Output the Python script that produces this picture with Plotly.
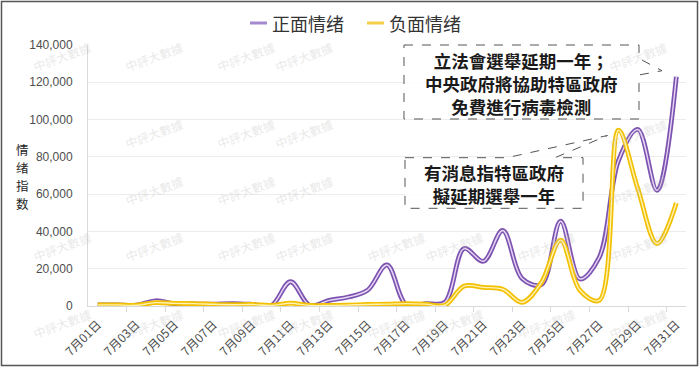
import plotly.graph_objects as go

dates = ["7月%02d日" % d for d in range(1, 32)]
positive = [600, 600, 400, 2800, 1200, 1100, 1000, 1300, 900, 200,
            13000, 300, 3000, 4800, 8500, 22000, 600, 1300, 2000, 30800,
            24000, 40500, 14800, 11500, 45500, 14500, 26000, 78000, 94700, 62000,
            123000]
negative = [600, 600, 400, 1800, 1400, 1300, 900, 700, 800, 300,
            1500, 300, 300, 500, 800, 1000, 1300, 1000, 400, 10700,
            10000, 9000, 2000, 12500, 35300, 8400, 3000, 94300, 63000, 33500,
            55300]
series_names = ["正面情绪", "负面情绪"]
y_title_chars = ["情", "绪", "指", "数"]
note1 = ["立法會選舉延期一年；", "中央政府將協助特區政府", "免費進行病毒檢測"]
note2 = ["有消息指特區政府", "擬延期選舉一年"]
watermark = "中評大數據"

W, H = 700, 371
L, R, T, B = 88, 686, 45, 306
PW, PH = R - L, B - T


def px(x):
    return (x - L) / PW


def py(y):
    return (B - y) / PH


xs = list(range(len(dates)))
FONT = "Noto Sans CJK SC, Noto Sans CJK TC, sans-serif"
TC = "Noto Sans CJK TC, sans-serif"

fig = go.Figure()
styles = [
    (positive, "#7d52b0", "#e4d8f4"),
    (negative, "#f2c000", "#fff2b5"),
]
for (vals, outer, inner), name in zip(styles, series_names):
    fig.add_trace(go.Scatter(x=xs, y=vals, mode="lines", name=name,
                             line=dict(color=outer, width=4.8, shape="spline", smoothing=1),
                             showlegend=False, hoverinfo="skip"))
    fig.add_trace(go.Scatter(x=xs, y=vals, mode="lines", name=name,
                             line=dict(color=inner, width=1.4, shape="spline", smoothing=1),
                             showlegend=False))

shapes = []
annotations = []

box1 = (404, 45, 639, 119)
box2 = (405, 157.7, 583, 208.3)


def near_box(x, y, b, pad=30):
    return b[0] - pad <= x <= b[2] + pad and b[1] - 15 <= y <= b[3] + 15


# watermarks
for r, wy in enumerate([36, 113, 190, 267, 344]):
    for c in range(8):
        wx = 28 + 92 * c
        if c == 0 and wy in (113, 190):
            continue
        if near_box(wx, wy, box1) or near_box(wx, wy, box2):
            continue
        annotations.append(dict(x=px(wx), y=py(wy), xref="paper", yref="paper",
                                text=watermark, showarrow=False, textangle=-20,
                                font=dict(size=12, family=FONT, color="rgba(190,190,190,0.35)")))

# custom legend
leg = [(250, 267, 270, "#a588d0"), (367, 384, 387, "#f5cf48")]
for (x0, x1, tx, col), name in zip(leg, series_names):
    shapes.append(dict(type="line", xref="paper", yref="paper", x0=px(x0), x1=px(x1),
                       y0=py(23), y1=py(23), line=dict(color=col, width=3)))
    annotations.append(dict(x=px(tx), y=py(23), xref="paper", yref="paper", text=name,
                            showarrow=False, xanchor="left", yanchor="middle",
                            font=dict(size=18, family=FONT, color="#333333")))

# y-axis title (stacked characters)
for ch, cy in zip(y_title_chars, [149, 167, 185, 203]):
    annotations.append(dict(x=px(22), y=py(cy), xref="paper", yref="paper", text=ch,
                            showarrow=False, xanchor="center", yanchor="middle",
                            borderpad=0,
                            font=dict(size=12.5, family=FONT, color="#262626")))


def path_px(pts):
    s = ""
    for i, (x, y) in enumerate(pts):
        s += ("M" if i == 0 else "L") + "%.4f,%.4f " % (px(x), py(y))
    return s + "Z"


box_line = dict(color="#555555", width=1, dash="dash")
shapes.append(dict(type="path", xref="paper", yref="paper", line=box_line,
                   fillcolor="rgba(255,255,255,0.85)",
                   path=path_px([(box1[0], box1[1]), (box1[2], box1[1]), (box1[2], 58.5),
                                 (662, 70.7), (box1[2], 75), (box1[2], box1[3]),
                                 (box1[0], box1[3])])))
shapes.append(dict(type="path", xref="paper", yref="paper", line=box_line,
                   fillcolor="rgba(255,255,255,0.85)",
                   path=path_px([(box2[0], box2[1]), (507, box2[1]), (607.5, 135.5),
                                 (555, box2[1]), (box2[2], box2[1]), (box2[2], box2[3]),
                                 (box2[0], box2[3])])))
annotations.append(dict(x=px(521.5), y=py(83.5), xref="paper", yref="paper",
                        text="<br>".join("<b>%s</b>" % t for t in note1), showarrow=False,
                        xanchor="center", yanchor="middle", align="center", borderpad=0,
                        font=dict(size=17.5, family=TC, color="#1a1a1a")))
annotations.append(dict(x=px(494), y=py(184), xref="paper", yref="paper",
                        text="<br>".join("<b>%s</b>" % t for t in note2), showarrow=False,
                        xanchor="center", yanchor="middle", align="center", borderpad=0,
                        font=dict(size=17.5, family=TC, color="#1a1a1a")))

# outer border
shapes.append(dict(type="rect", xref="paper", yref="paper", x0=px(1.5), x1=px(697.5),
                   y0=py(1.5), y1=py(365.5), line=dict(color="#555555", width=1.5)))

fig.update_layout(
    width=W, height=H,
    margin=dict(l=L, r=W - R, t=T, b=H - B, pad=0),
    paper_bgcolor="white", plot_bgcolor="white",
    shapes=shapes, annotations=annotations,
    showlegend=False,
    xaxis=dict(range=[-0.5, len(dates) - 0.5], tickmode="array",
               tickvals=xs[::2], ticktext=dates[::2], tickangle=-45,
               ticks="", ticklabelstandoff=6,
               tickfont=dict(size=12, family=FONT, color="#4d4d4d"),
               showgrid=False, zeroline=False, showline=True,
               linecolor="#d9d9d9", linewidth=1,
               minor=dict(tickmode="array", tickvals=[i + 1.5 for i in xs[:-1:2]],
                          ticks="outside", ticklen=5, tickcolor="#d9d9d9", showgrid=False)),
    yaxis=dict(range=[0, 140000], tickmode="linear", tick0=0, dtick=20000,
               tickformat=",", ticks="", ticklabelstandoff=12,
               tickfont=dict(size=12, family="Liberation Sans, Arial, sans-serif", color="#4d4d4d"),
               showgrid=True, gridcolor="#ececec", gridwidth=1,
               zeroline=False, showline=True, linecolor="#d9d9d9", linewidth=1),
)

fig.write_html("out.html", config={"displayModeBar": False},
               post_script="document.body.style.margin='0';document.body.style.overflow='hidden';")
